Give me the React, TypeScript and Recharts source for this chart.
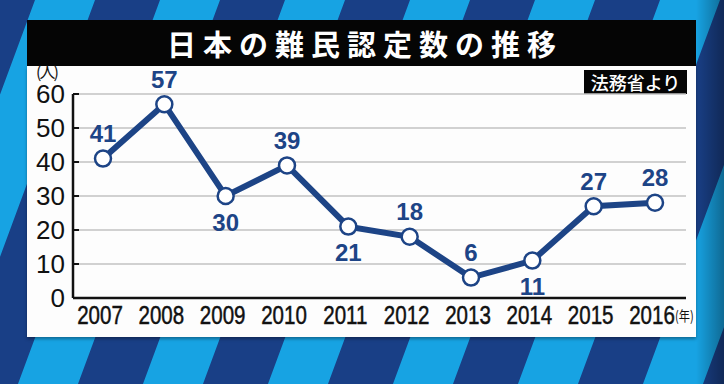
import React from 'react';
import { LineChart, Line, XAxis, YAxis, CartesianGrid, LabelList } from 'recharts';

const years = ['2007', '2008', '2009', '2010', '2011', '2012', '2013', '2014', '2015', '2016'];
const refugees = [41, 57, 30, 39, 21, 18, 6, 11, 27, 28];
const yTicks = [0, 10, 20, 30, 40, 50, 60];
const titleText = '日本の難民認定数の推移';
const sourceText = '法務省より';
const yUnit = '(人)';
const xUnit = '(年)';

const data = years.map((year, i) => ({ year, value: refugees[i] }));
const labelBelow = new Set(['2009', '2011', '2014']);

const NAVY = '#1d4486';
const LIGHT = '#17a3e3';
const DARK = '#193f86';
const NUM_FONT = "'Liberation Sans', Arial, sans-serif";
const JP_FONT = "'Noto Sans CJK JP', 'Noto Sans CJK SC', sans-serif";

const YTick = (props: any) => {
  const { x, y, payload } = props;
  return (
    <g>
      <line x1={x + 8} x2={x + 14} y1={y} y2={y} stroke="#111" strokeWidth={2} />
      <text x={x} y={y + 9} textAnchor="end" fontSize={26} fontFamily={NUM_FONT} fill="#111">
        {payload.value}
      </text>
    </g>
  );
};

const XTick = (props: any) => {
  const { x, y, payload, index } = props;
  const last = index === years.length - 1;
  return (
    <g>
      <g transform={`translate(${x - 3},${y + 19}) scale(0.79,1)`}>
        <text x={0} y={0} textAnchor="middle" fontSize={26} fontFamily={NUM_FONT} fill="#111" stroke="#111" strokeWidth={0.5}>
          {payload.value}
        </text>
      </g>
      {last ? (
        <g transform={`translate(${x + 20},${y + 16}) scale(0.8,1)`}>
          <text x={0} y={0} textAnchor="start" fontSize={14} fontFamily={JP_FONT} fill="#111">
            {xUnit}
          </text>
        </g>
      ) : null}
    </g>
  );
};

const ValueLabel = (props: any) => {
  const { x, y, value, index } = props;
  const below = labelBelow.has(years[index]);
  return (
    <text
      x={x}
      y={below ? y + 26 : y - 25}
      textAnchor="middle"
      dominantBaseline="central"
      fontSize={24}
      fontWeight={700}
      fontFamily={NUM_FONT}
      fill={NAVY}
    >
      {value}
    </text>
  );
};

export default function App() {
  return (
    <div style={{ position: 'absolute', left: 0, top: 0, width: 724, height: 384, overflow: 'hidden', fontFamily: JP_FONT }}>
      <svg width={724} height={384} style={{ position: 'absolute', left: 0, top: 0 }}>
        <defs>
          <pattern id="stripes" patternUnits="userSpaceOnUse" width={125} height={400} patternTransform="skewX(-20.3)">
            <rect x={0} y={0} width={125} height={400} fill={DARK} />
            <rect x={35} y={0} width={60} height={400} fill={LIGHT} />
          </pattern>
          <linearGradient id="shade" x1="0" x2="1" y1="0" y2="0">
            <stop offset="0" stopColor="#000" stopOpacity={0} />
            <stop offset="1" stopColor="#000" stopOpacity={0.35} />
          </linearGradient>
        </defs>
        <rect x={0} y={0} width={724} height={384} fill="url(#stripes)" />
        <rect x={696} y={0} width={28} height={384} fill="url(#shade)" />
      </svg>
      <div style={{ position: 'absolute', left: 27, top: 66, width: 669, height: 271, background: '#fdfdfd', boxShadow: '0 2px 3px rgba(0,0,0,0.35)' }} />
      <div
        style={{
          position: 'absolute', left: 27, top: 20, width: 669, height: 46, background: '#050505', color: '#fff',
          display: 'flex', alignItems: 'center', justifyContent: 'center', fontSize: 29, fontWeight: 700,
          letterSpacing: 7, paddingLeft: 7, boxSizing: 'border-box',
        }}
      >
        {titleText}
      </div>
      <div
        style={{
          position: 'absolute', left: 584, top: 70, width: 103, height: 24, background: '#050505', color: '#fff',
          display: 'flex', alignItems: 'center', justifyContent: 'center', fontSize: 18, fontWeight: 500, lineHeight: '24px',
        }}
      >
        {sourceText}
      </div>
      <div style={{ position: 'absolute', left: 36, top: 64, fontSize: 16, color: '#111', lineHeight: '15px', letterSpacing: -2 }}>
        {yUnit}
      </div>
      <div style={{ position: 'absolute', left: 0, top: 0 }}>
        <LineChart width={724} height={384} data={data} margin={{ top: 94, right: 38, bottom: 56, left: 0 }}>
          <CartesianGrid vertical={false} stroke="#c2c2c2" strokeWidth={1.5} />
          <XAxis
            dataKey="year"
            height={30}
            padding={{ left: 30, right: 31 }}
            tickLine={false}
            tickSize={0}
            tickMargin={7}
            axisLine={{ stroke: '#111', strokeWidth: 2.5 }}
            tick={<XTick />}
            interval={0}
          />
          <YAxis
            width={73}
            domain={[0, 60]}
            ticks={yTicks}
            tickLine={false}
            tickSize={0}
            tickMargin={8}
            axisLine={{ stroke: '#111', strokeWidth: 2.5 }}
            tick={<YTick />}
            interval={0}
          />
          <Line
            type="linear"
            dataKey="value"
            stroke={NAVY}
            strokeWidth={6}
            dot={{ r: 8, fill: '#fff', stroke: NAVY, strokeWidth: 2.5 }}
            isAnimationActive={false}
          >
            <LabelList dataKey="value" content={<ValueLabel />} />
          </Line>
        </LineChart>
      </div>
    </div>
  );
}
